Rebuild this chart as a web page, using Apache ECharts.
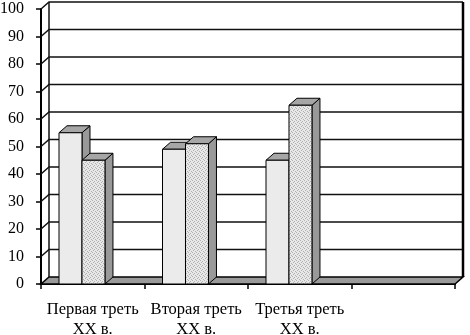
<!DOCTYPE html>
<html>
<head>
<meta charset="utf-8">
<script src="https://cdn.jsdelivr.net/npm/echarts@6/dist/echarts.min.js"></script>
<style>
  html, body { margin: 0; padding: 0; background: #fff; }
  #chart { width: 470px; height: 335px; }
</style>
</head>
<body>
<div id="chart"></div>
<script>
// данные диаграммы
const categories = ['Первая треть\nXX в.', 'Вторая треть\nXX в.', 'Третья треть\nXX в.', '']
const seriesA = [55, 49, 45]
const seriesB = [45, 51, 65]
const yTicks = [0, 10, 20, 30, 40, 50, 60, 70, 80, 90, 100]

const DX = 8 // глубина по x
const DY = 7 // глубина по y
const FONT = '"Liberation Serif", "DejaVu Serif", serif'

// штриховка для второго ряда
const patCanvas = document.createElement('canvas')
patCanvas.width = 4
patCanvas.height = 4
const pctx = patCanvas.getContext('2d')
pctx.fillStyle = '#e8e8e8'
pctx.fillRect(0, 0, 4, 4)
pctx.fillStyle = '#b0b0b0'
pctx.fillRect(0, 0, 1, 1)
pctx.fillRect(2, 1, 1, 1)
pctx.fillRect(1, 2, 1, 1)
pctx.fillRect(3, 3, 1, 1)
const hatch = { image: patCanvas, repeat: 'repeat' }

// стенки, пол и линии сетки
const renderWall = (params, api) => {
  const cs = params.coordSys
  const v = api.value(0)
  const y = api.coord([0, v])[1]
  const x0 = cs.x
  const x1 = cs.x + cs.width
  const children = []
  if (v === 0) {
    children.push({
      type: 'polygon',
      shape: { points: [[x0, y], [x1, y], [x1 + DX, y - DY], [x0 + DX, y - DY]] },
      style: { fill: '#9a9a9a', stroke: '#000', lineWidth: 1.5 }
    })
    return { type: 'group', children }
  }
  children.push({
    type: 'polyline',
    shape: { points: [[x0, y], [x0 + DX, y - DY], [x1 + DX, y - DY]] },
    style: { fill: null, stroke: '#111', lineWidth: 1.5 }
  })
  if (v === 100) {
    const yb = api.coord([0, 0])[1]
    children.push({
      type: 'line',
      shape: { x1: x0 + DX, y1: y - DY, x2: x0 + DX, y2: yb - DY },
      style: { stroke: '#111', lineWidth: 1.5 }
    })
    children.push({
      type: 'line',
      shape: { x1: x1 + DX, y1: y - DY, x2: x1 + DX, y2: yb - DY },
      style: { stroke: '#000', lineWidth: 2.5 }
    })
  }
  return { type: 'group', children }
}

// объёмный столбик
const makeBar = (offset, frontFill) => (params, api) => {
  const idx = api.value(0)
  const band = api.size([1, 0])[0]
  const w = band * 0.222
  const left = api.coord([idx, 0])[0] - band / 2 + band * offset
  const top = api.coord([idx, api.value(1)])[1]
  const base = api.coord([idx, 0])[1]
  const r = left + w
  return {
    type: 'group',
    children: [
      {
        type: 'polygon',
        shape: { points: [[r, base], [r, top], [r + DX, top - DY], [r + DX, base - DY]] },
        style: { fill: '#999', stroke: '#000', lineWidth: 1 }
      },
      {
        type: 'polygon',
        shape: { points: [[left, top], [r, top], [r + DX, top - DY], [left + DX, top - DY]] },
        style: { fill: '#a6a6a6', stroke: '#000', lineWidth: 1 }
      },
      {
        type: 'rect',
        shape: { x: left, y: top, width: w, height: base - top },
        style: { fill: frontFill, stroke: '#000', lineWidth: 1 }
      }
    ]
  }
}

const chart = echarts.init(document.getElementById('chart'))
chart.setOption({
  animation: false,
  grid: { left: 41, right: 15, top: 9, bottom: 51, outerBoundsMode: 'none' },
  xAxis: {
    type: 'category',
    data: categories,
    axisLine: { lineStyle: { color: '#000', width: 2 } },
    axisTick: { show: true, length: 5, lineStyle: { color: '#000', width: 1.5 } },
    axisLabel: { margin: 16, color: '#000', fontFamily: FONT, fontSize: 16.5, lineHeight: 20, interval: 0 },
    splitLine: { show: false }
  },
  yAxis: {
    type: 'value',
    min: 0,
    max: 100,
    interval: 10,
    axisLine: { show: true, lineStyle: { color: '#000', width: 2 } },
    axisTick: { show: true, length: 5, lineStyle: { color: '#000', width: 1.5 } },
    axisLabel: { margin: 17, color: '#000', fontFamily: FONT, fontSize: 16 },
    splitLine: { show: false }
  },
  series: [
    {
      type: 'custom',
      renderItem: renderWall,
      data: yTicks.map(v => [v]),
      encode: { y: 0 },
      z: 1,
      silent: true
    },
    {
      type: 'custom',
      renderItem: makeBar(0.174, '#ebebeb'),
      data: seriesA.map((v, i) => [i, v]),
      encode: { x: 0, y: 1 },
      z: 2
    },
    {
      type: 'custom',
      renderItem: makeBar(0.396, hatch),
      data: seriesB.map((v, i) => [i, v]),
      encode: { x: 0, y: 1 },
      z: 3
    }
  ]
})
</script>
</body>
</html>
